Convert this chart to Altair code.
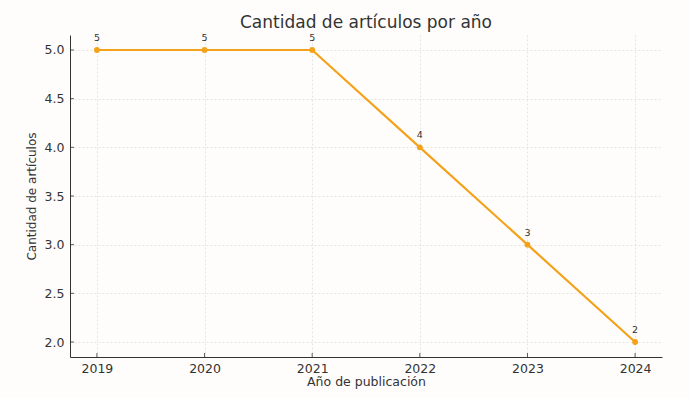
import altair as alt
import pandas as pd

years = [2019, 2020, 2021, 2022, 2023, 2024]
counts = [5, 5, 5, 4, 3, 2]
y_ticks = [2.0, 2.5, 3.0, 3.5, 4.0, 4.5, 5.0]

df = pd.DataFrame({"year": years, "count": counts})
ydf = pd.DataFrame({"v": y_ticks})

W, H = 592, 322
ORANGE = "#F5A21B"
FONT = "DejaVu Sans"

xs = alt.Scale(domain=[2018.75, 2024.25], nice=False, zero=False)
ys = alt.Scale(domain=[1.846, 5.154], nice=False, zero=False)

x_enc = alt.X("year:Q", scale=xs,
              axis=alt.Axis(values=years, format="d", title="Año de publicación",
                            grid=True, gridDash=[2, 2], gridColor="#dddddd", gridWidth=0.8,
                            tickSize=0, labelPadding=5, labelFontSize=12.5, titleFontSize=12.5,
                            titleFontWeight="normal", labelColor="#333333", titleColor="#333333",
                            domainColor="#333333", titlePadding=1, labelFont=FONT, titleFont=FONT))
y_enc = alt.Y("count:Q", scale=ys,
              axis=alt.Axis(values=y_ticks, format=".1f", title="Cantidad de artículos",
                            grid=True, gridDash=[2, 2], gridColor="#dddddd", gridWidth=0.8,
                            tickSize=0, labelPadding=6, labelFontSize=12.5, titleFontSize=12,
                            titleFontWeight="normal", labelColor="#333333", titleColor="#333333",
                            domainColor="#333333", titlePadding=6, labelFont=FONT, titleFont=FONT))

line = alt.Chart(df).mark_line(color=ORANGE, strokeWidth=2.2).encode(x=x_enc, y=y_enc)
pts = alt.Chart(df).mark_circle(color=ORANGE, size=34, opacity=1).encode(x="year:Q", y="count:Q")
labels = alt.Chart(df).mark_text(dy=-12, fontSize=9.5, color="#333333", font=FONT).encode(
    x="year:Q", y="count:Q", text="count:Q")

xticks = alt.Chart(df).mark_rule(color="#333333", strokeWidth=0.8).encode(
    x="year:Q", y=alt.value(H), y2=alt.value(H - 4))
yticks = alt.Chart(ydf).mark_rule(color="#333333", strokeWidth=0.8).encode(
    y=alt.Y("v:Q", scale=ys), x=alt.value(0), x2=alt.value(4))

chart = alt.layer(line, pts, labels, xticks, yticks).properties(
    width=W, height=H,
    title=alt.TitleParams("Cantidad de artículos por año", fontSize=17, font=FONT,
                          fontWeight="normal", color="#333333", offset=5, dy=4),
    autosize=alt.AutoSizeParams(type="none"),
    padding={"left": 70, "top": 35, "right": 28, "bottom": 40},
    background="#fefdfc",
).configure_view(stroke=None)

chart.save("out.html", embed_options={"renderer": "svg", "actions": False})
